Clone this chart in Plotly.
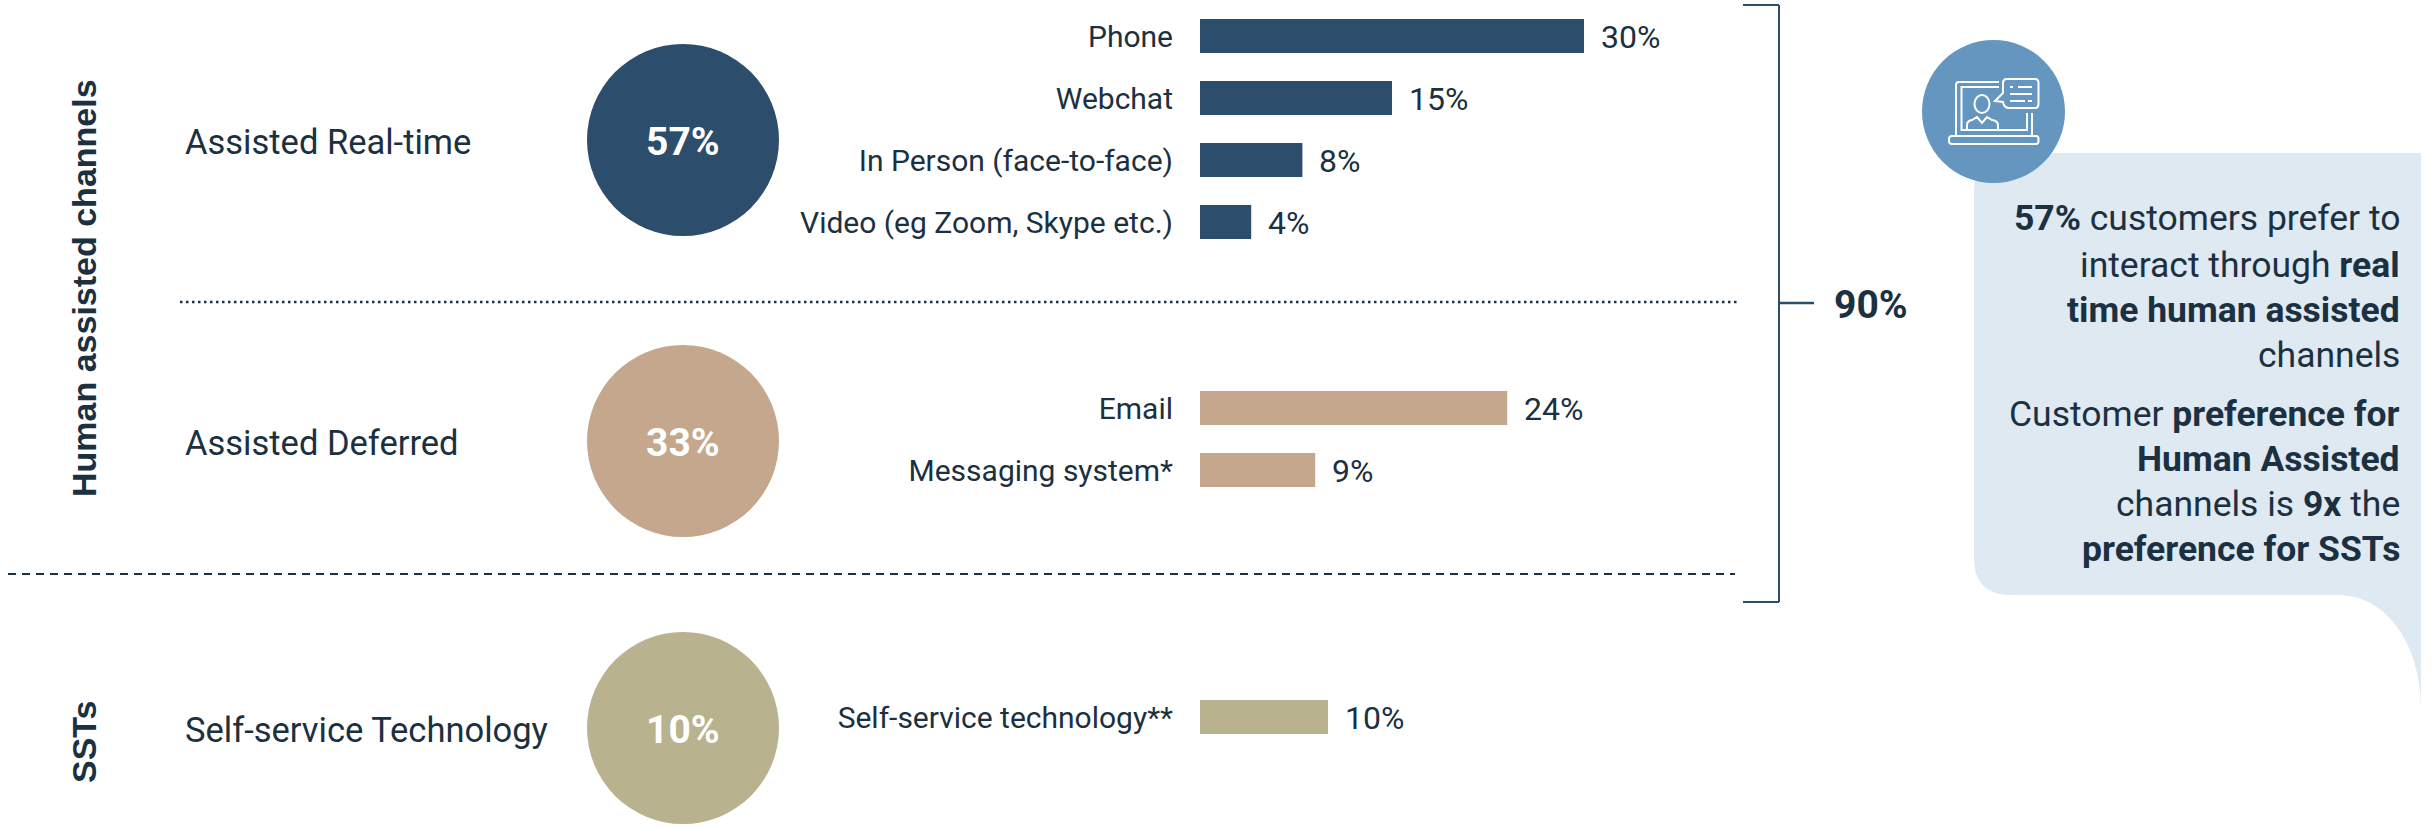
import plotly.graph_objects as go

WIDTH, HEIGHT = 2433, 829
PX_PER_PCT = 12.8
BAR_X0 = 1200

# Data
channels = ["Phone", "Webchat", "In Person (face-to-face)", "Video (eg Zoom, Skype etc.)",
            "Email", "Messaging system*", "Self-service technology**"]
channel_values = [30, 15, 8, 4, 24, 9, 10]
group_names = ["Assisted Real-time", "Assisted Deferred", "Self-service Technology"]
group_values = [57, 33, 10]
side_labels = ["Human assisted channels", "SSTs"]
total_label = "90%"
callout_lines = [
    "<b>57%</b> customers prefer to",
    "interact through <b>real</b>",
    "<b>time human assisted</b>",
    "channels",
    "Customer <b>preference for</b>",
    "<b>Human Assisted</b>",
    "channels is <b>9x</b> the",
    "<b>preference for SSTs</b>",
]

# Layout / style
row_y = [36, 98, 160, 222, 408, 470, 717]
row_colors = ["#2C4D6B"] * 4 + ["#C4A78C"] * 2 + ["#B8B28E"]
group_y = [140, 441, 728]
group_label_y = [142, 443, 730]
group_colors = ["#2C4D6B", "#C4A78C", "#B8B28E"]
callout_y = [218, 265, 310, 355, 414, 459, 504, 549]
INK = "#1B3040"
FONT = "Roboto"
FS = 30

fig = go.Figure()

fig.add_trace(go.Bar(
    x=channel_values, y=row_y, orientation="h", width=34,
    marker=dict(color=row_colors, line=dict(width=0)),
    xaxis="x", yaxis="y", showlegend=False, hoverinfo="skip",
))
fig.add_trace(go.Scatter(
    x=[683] * 3, y=group_y, mode="markers", xaxis="x2", yaxis="y",
    marker=dict(size=192, color=group_colors, line=dict(width=0)),
    showlegend=False, hoverinfo="skip",
))

shapes = []
def line(x0, y0, x1, y1, color="#2C4D6B", width=2, dash="solid", layer="above"):
    shapes.append(dict(type="line", xref="x2", yref="y", x0=x0, y0=y0, x1=x1, y1=y1,
                       layer=layer, line=dict(color=color, width=width, dash=dash)))
def path(d, color="white", width=2, fill=None, layer="above"):
    s = dict(type="path", xref="x2", yref="y", path=d, layer=layer,
             line=dict(color=color, width=width))
    if fill:
        s["fillcolor"] = fill
    shapes.append(s)

line(180, 302, 1737, 302, color=INK, width=2.5, dash="2.5px,3.5px")
line(8, 574, 1735, 574, color=INK, width=1.8, dash="8px,6px")
line(1743, 5, 1779, 5); line(1779, 5, 1779, 602); line(1743, 602, 1779, 602)
line(1779, 303, 1814, 303, width=2.5)

# callout
shapes.append(dict(type="path", xref="x2", yref="y", layer="below", fillcolor="#DFE9F2",
    line=dict(width=0),
    path="M1974,190 Q1974,153 2011,153 L2421,153 L2421,707 C2421,650 2390,595 2338,595 "
         "L2011,595 Q1974,595 1974,558 Z"))
# icon disc
shapes.append(dict(type="circle", xref="x2", yref="y", x0=1922, x1=2065, y0=40, y1=183,
                   fillcolor="#6596C0", line=dict(width=0), layer="above"))
# icon
path("M1999,82 L1959,82 Q1956,82 1956,85 L1956,136")
path("M1999,87 L1961.5,87 L1961.5,130 L2027,130 L2027,113")
path("M2032,113 L2032,136")
path("M1952,136 L2036,136 Q2038.5,136 2038.5,139 L2038.5,141 Q2038.5,144 2036,144 "
     "L1952,144 Q1949,144 1949,141 L1949,139 Q1949,136 1952,136 Z")
path("M2007,79 L2035,79 Q2038.5,79 2038.5,83 L2038.5,104 Q2038.5,108 2035,108 L2009,108 "
     "Q2004,108 2003,102 L1995,101 L2003,93 L2003,83 Q2003,79 2007,79 Z")
path("M2010,87 L2013,87 M2018,87 L2032,87 M2010,94 L2032,94 M2010,101 L2025,101 M2028,101 L2032,101")
shapes.append(dict(type="circle", xref="x2", yref="y", x0=1974.5, x1=1989.5, y0=95, y1=113,
                   line=dict(color="white", width=2), layer="above"))
path("M1967,129 L1967,125 Q1967,121 1972,120 L1977,117 L1982,123 L1987,117 L1992,120 "
     "Q1998,121 1998,125 L1998,129")

annotations = []
def text(x, y, s, size=FS, color=INK, anchor="left", angle=0, font=FONT):
    annotations.append(dict(xref="x2", yref="y", x=x, y=y, text=s, showarrow=False,
                            xanchor=anchor, yanchor="middle", textangle=angle,
                            font=dict(family=font, size=size, color=color)))

for name, y in zip(group_names, group_label_y):
    text(183, y, name, size=34.5)
for v, y in zip(group_values, group_y):
    text(683, y + 2, f"<b>{v}%</b>", size=39, color="white", anchor="center")
for v, y in zip(channel_values, row_y):
    text(BAR_X0 + v * PX_PER_PCT + 15, y + 1, f"{v}%", size=32)
for s, y in zip(callout_lines, callout_y):
    text(2402, y, s, anchor="right", size=35.5)
text(1871, 305, f"<b>{total_label}</b>", size=39, anchor="center")
text(84, 288, f"<b>{side_labels[0]}</b>", size=34, angle=-90, font="Liberation Sans", anchor="center")
text(84, 742, f"<b>{side_labels[1]}</b>", size=34, angle=-90, font="Liberation Sans", anchor="center")

fig.update_layout(
    width=WIDTH, height=HEIGHT, margin=dict(l=0, r=0, t=0, b=0),
    paper_bgcolor="white", plot_bgcolor="rgba(0,0,0,0)", showlegend=False,
    shapes=shapes, annotations=annotations,
    xaxis=dict(domain=[BAR_X0 / WIDTH, 1], range=[0, (WIDTH - BAR_X0) / PX_PER_PCT],
               visible=False, fixedrange=True),
    xaxis2=dict(domain=[0, 1], range=[0, WIDTH], visible=False, anchor="y", fixedrange=True),
    yaxis=dict(domain=[0, 1], range=[HEIGHT, 0], anchor="x", showgrid=False, zeroline=False,
               showline=False, tickmode="array", tickvals=row_y, ticktext=channels,
               ticks="outside", ticklen=20, tickcolor="rgba(0,0,0,0)", ticklabelstandoff=0,
               tickfont=dict(family=FONT, size=FS, color=INK), fixedrange=True),
)
fig.write_html("out.html", config=dict(displayModeBar=False),
               post_script="document.body.style.margin='0';document.documentElement.style.overflow='hidden';")
